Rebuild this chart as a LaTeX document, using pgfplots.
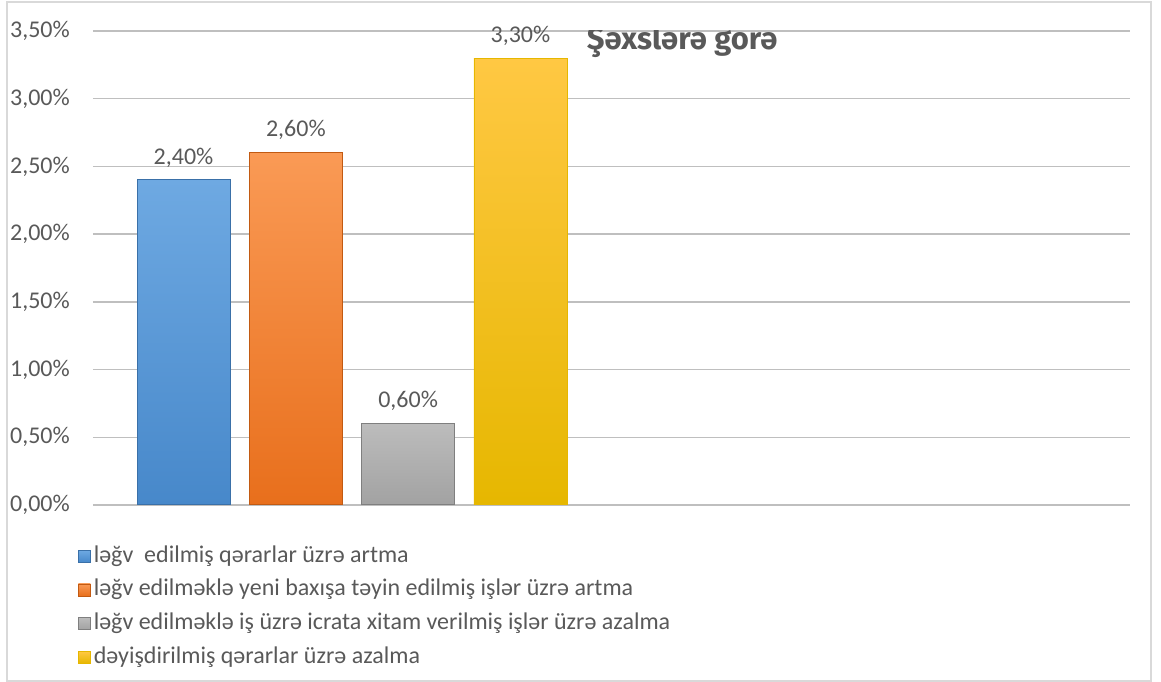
\documentclass[border=0pt]{standalone}
\usepackage{pgfplots}
\pgfplotsset{compat=1.18}
\usepackage{fontspec}
\setmainfont{Carlito}
\newfontfamily\titlefont{Fira Sans}
\definecolor{txt}{HTML}{595959}
\definecolor{grid}{HTML}{D9D9D9}
\definecolor{bluetop}{HTML}{6EA9E2}
\definecolor{bluebot}{HTML}{4788CA}
\definecolor{blueedge}{HTML}{3A70A8}
\definecolor{ortop}{HTML}{FA9A55}
\definecolor{orbot}{HTML}{E86F1C}
\definecolor{oredge}{HTML}{C25A12}
\definecolor{grtop}{HTML}{BCBCBC}
\definecolor{grbot}{HTML}{A2A2A2}
\definecolor{gredge}{HTML}{7F7F7F}
\definecolor{yetop}{HTML}{FFC843}
\definecolor{yebot}{HTML}{E6B700}
\begin{document}
\begin{tikzpicture}
\useasboundingbox (0pt,0pt) rectangle (1161pt,682pt);
\draw[grid, line width=1.5pt] (7pt,1pt) rectangle (1151pt,680pt);
\begin{axis}[
  at={(93pt,177pt)}, anchor=south west,
  scale only axis, width=1037pt, height=474pt,
  xmin=-0.806, xmax=8.428, ymin=0, ymax=3.5,
  ytick={0,0.5,...,3.5},
  xtick=\empty,
  axis line style={draw=none},
  major tick length=0pt,
  ymajorgrids, grid style={grid, line width=1.3pt},
  font=\fontsize{24}{28}\selectfont\color{txt},
  /pgf/number format/assume math mode=true,
  /pgf/number format/fixed, /pgf/number format/fixed zerofill,
  /pgf/number format/precision=2, /pgf/number format/use comma,
  yticklabel={\pgfmathprintnumber{\tick}\%},
  y tick label style={anchor=east, inner sep=0pt, xshift=-23pt, text=txt},
  ybar, bar width=93pt, bar shift=0pt,
  nodes near coords={\pgfmathprintnumber{\pgfplotspointmeta}\%},
  every node near coord/.append style={text=txt, yshift=9pt},
  legend cell align=left,
  legend image code/.code={\draw[#1, line width=0.6pt] (0pt,-6pt) rectangle (12pt,6pt);},
  legend style={at={(axis description cs:-0.0174,-0.068)}, anchor=north west, draw=none, fill=none,
    font=\fontsize{24}{28}\selectfont\color{txt},
    nodes={text height=17pt, text depth=5pt, inner ysep=5.85pt, inner xsep=3pt}},
]
\addplot[draw=blueedge, top color=bluetop, bottom color=bluebot, line width=1pt] coordinates {(0,2.4)};
\addlegendentry{ləğv\ \ edilmiş qərarlar üzrə artma}
\addplot[draw=oredge, top color=ortop, bottom color=orbot, line width=1pt] coordinates {(1,2.6)};
\addlegendentry{ləğv edilməklə yeni baxışa təyin edilmiş işlər üzrə artma}
\addplot[draw=gredge, top color=grtop, bottom color=grbot, line width=1pt] coordinates {(2,0.6)};
\addlegendentry{ləğv edilməklə iş üzrə icrata xitam verilmiş işlər üzrə azalma}
\addplot[draw=yebot, top color=yetop, bottom color=yebot, line width=0.5pt] coordinates {(3,3.3)};
\addlegendentry{dəyişdirilmiş qərarlar üzrə azalma}
\node[anchor=base west, inner sep=0pt, font=\titlefont\bfseries\fontsize{31}{36}\selectfont, text=txt]
  at (axis description cs:0.476,0.962) {Şəxslərə görə};
\end{axis}
\end{tikzpicture}
\end{document}
